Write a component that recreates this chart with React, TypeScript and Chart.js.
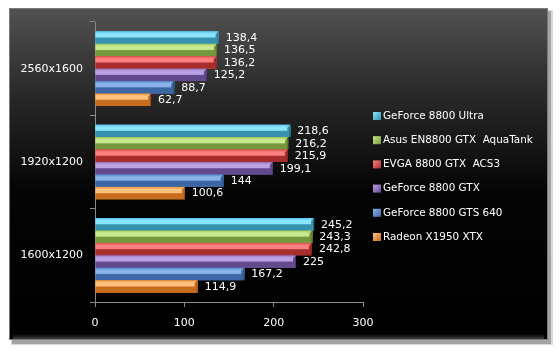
import React, { useEffect, useRef } from "react";
import { Chart, registerables } from "chart.js";

Chart.register(...registerables);

const categories = ["2560x1600", "1920x1200", "1600x1200"];
const seriesNames = [
  "GeForce 8800 Ultra",
  "Asus EN8800 GTX  AquaTank",
  "EVGA 8800 GTX  ACS3",
  "GeForce 8800 GTX",
  "GeForce 8800 GTS 640",
  "Radeon X1950 XTX",
];
const ultra = [138.4, 218.6, 245.2];
const asus = [136.5, 216.2, 243.3];
const evga = [136.2, 215.9, 242.8];
const gtx = [125.2, 199.1, 225];
const gts = [88.7, 144, 167.2];
const radeon = [62.7, 100.6, 114.9];
const seriesValues = [ultra, asus, evga, gtx, gts, radeon];
const xTicks = [0, 100, 200, 300];

// [base, light, dark]
const palette = [
  ["#55c8e8", "#8ae4fa", "#3593b0"],
  ["#9fc85a", "#c8e98f", "#76973c"],
  ["#e04a4a", "#ff8080", "#a82e2e"],
  ["#9272c2", "#bca2e2", "#634a8e"],
  ["#5287cf", "#8ab3ea", "#3c66a4"],
  ["#ee9238", "#ffc27e", "#c86c1e"],
];

const FONT = "'DejaVu Sans', sans-serif";

const fmt = (v: number) => String(v).replace(".", ",");

const framePlugin = {
  id: "frame",
  beforeDraw(chart: any) {
    const ctx = chart.ctx;
    const L = 9, T = 8, R = 548, B = 340;
    ctx.save();
    ctx.fillStyle = "rgba(0,0,0,0.25)";
    ctx.fillRect(L + 3, T + 3, R - L, B - T + 1);
    ctx.fillStyle = "rgba(0,0,0,0.15)";
    ctx.fillRect(L + 2, T + 2, R - L + 3, B - T + 3);
    const g = ctx.createLinearGradient(0, T, 0, B);
    g.addColorStop(0, "#525252");
    g.addColorStop(0.25, "#2a2a2a");
    g.addColorStop(0.55, "#050505");
    g.addColorStop(1, "#000000");
    ctx.fillStyle = g;
    ctx.fillRect(L, T, R - L, B - T);
    const gb = ctx.createLinearGradient(0, B - 6, 0, B);
    gb.addColorStop(0, "rgba(80,80,80,0)");
    gb.addColorStop(1, "rgba(90,90,90,0.9)");
    ctx.fillStyle = gb;
    ctx.fillRect(L + 4, B - 6, R - L - 8, 6);
    ctx.strokeStyle = "#7a7a7a";
    ctx.lineWidth = 1;
    ctx.strokeRect(L + 0.5, T + 0.5, R - L - 1, B - T - 1);
    ctx.restore();
  },
};

const barStylePlugin = {
  id: "barStyle",
  afterDatasetsDraw(chart: any) {
    const ctx = chart.ctx;
    ctx.save();
    chart.data.datasets.forEach((ds: any, di: number) => {
      const meta = chart.getDatasetMeta(di);
      const [base, light, dark] = palette[di];
      meta.data.forEach((bar: any, i: number) => {
        const x0 = bar.base, x1 = bar.x;
        const top = bar.y - bar.height / 2;
        const bot = bar.y + bar.height / 2;
        const h = bot - top;
        const g = ctx.createLinearGradient(0, top, 0, bot);
        g.addColorStop(0, base);
        g.addColorStop(0.2, light);
        g.addColorStop(0.45, light);
        g.addColorStop(0.55, dark);
        g.addColorStop(1, dark);
        ctx.fillStyle = g;
        ctx.fillRect(x0, top, x1 - x0, h);
        const b = Math.min(3, h / 3);
        ctx.fillStyle = dark;
        ctx.beginPath();
        ctx.moveTo(x1 - b, top + b);
        ctx.lineTo(x1, top);
        ctx.lineTo(x1, bot);
        ctx.lineTo(x1 - b, bot - b);
        ctx.closePath();
        ctx.fill();
        ctx.fillStyle = "rgba(0,0,0,0.25)";
        ctx.fillRect(x1 - 1, top, 1, h);
        ctx.fillStyle = "#ffffff";
        ctx.font = `11px ${FONT}`;
        ctx.textAlign = "left";
        ctx.textBaseline = "middle";
        ctx.fillText(fmt(ds.data[i]), x1 + 7, bar.y + 0.5);
      });
    });
    ctx.restore();
  },
};

const legendPlugin = {
  id: "customLegend",
  afterDraw(chart: any) {
    const ctx = chart.ctx;
    ctx.save();
    const x = 373;
    const y0 = 116;
    const step = 24.2;
    seriesNames.forEach((name, i) => {
      const y = y0 + i * step;
      const [, light, dark] = palette[i];
      const g = ctx.createLinearGradient(x, y - 4, x + 8, y + 4);
      g.addColorStop(0, light);
      g.addColorStop(1, dark);
      ctx.fillStyle = g;
      ctx.fillRect(x, y - 4, 8, 8);
      ctx.fillStyle = "#ffffff";
      ctx.font = `10.4px ${FONT}`;
      ctx.textAlign = "left";
      ctx.textBaseline = "middle";
      ctx.fillText(name, x + 10, y);
    });
    ctx.restore();
  },
};

export default function App() {
  const ref = useRef<HTMLCanvasElement | null>(null);
  useEffect(() => {
    if (!ref.current) return;
    const chart = new Chart(ref.current, {
      type: "bar",
      data: {
        labels: categories,
        datasets: seriesValues.map((vals, i) => ({
          label: seriesNames[i],
          data: vals,
          backgroundColor: palette[i][0],
          borderWidth: 0,
          barPercentage: 1,
          categoryPercentage: 0.8,
        })),
      },
      options: {
        indexAxis: "y",
        responsive: false,
        animation: false,
        layout: { padding: { left: 0, top: 22, right: 197, bottom: 0 } },
        plugins: {
          legend: { display: false },
          tooltip: { enabled: false },
        },
        scales: {
          y: {
            afterFit: (s: any) => { s.width = 95; },
            grid: {
              drawOnChartArea: false,
              color: "#8a8a8a",
              tickLength: 5,
              offset: true,
            },
            border: { color: "#8a8a8a" },
            ticks: { color: "#ffffff", font: { family: FONT, size: 11 }, padding: 7 },
          },
          x: {
            min: 0,
            max: 300,
            afterFit: (s: any) => { s.height = 53; },
            afterBuildTicks: (s: any) => { s.ticks = xTicks.map((v) => ({ value: v })); },
            grid: { drawOnChartArea: false, color: "#8a8a8a", tickLength: 5 },
            border: { color: "#8a8a8a" },
            ticks: { color: "#ffffff", font: { family: FONT, size: 11 }, padding: 10 },
          },
        },
      },
      plugins: [framePlugin, barStylePlugin, legendPlugin],
    } as any);
    return () => chart.destroy();
  }, []);
  return (
    <div style={{ position: "absolute", left: 0, top: 0, width: 560, height: 355, background: "#fff" }}>
      <canvas ref={ref} width={560} height={355} />
    </div>
  );
}
